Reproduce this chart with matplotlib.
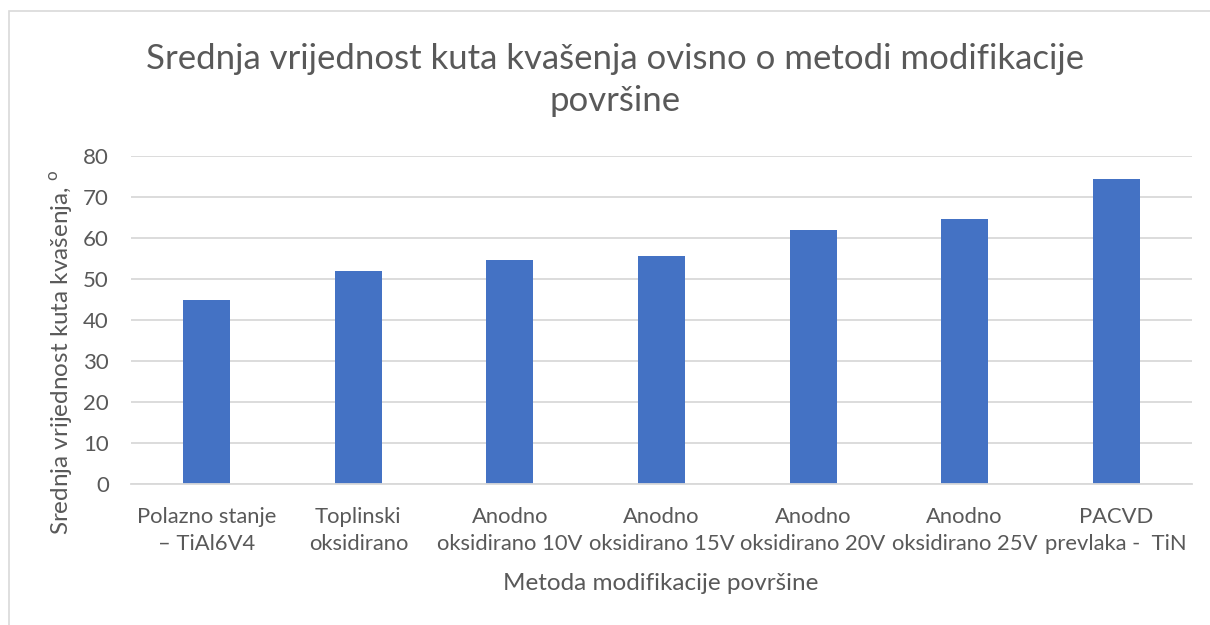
import matplotlib.pyplot as plt
from matplotlib.patches import Rectangle

plt.rcParams["font.family"] = ["Lato", "DejaVu Sans"]
plt.rcParams["mathtext.fontset"] = "custom"
plt.rcParams["mathtext.rm"] = "Lato"

# ---------- data ----------
categories = [
    "Polazno stanje\n– TiAl6V4",
    "Toplinski\noksidirano",
    "Anodno\noksidirano 10V",
    "Anodno\noksidirano 15V",
    "Anodno\noksidirano 20V",
    "Anodno\noksidirano 25V",
    "PACVD\nprevlaka -  TiN",
]
kut = [44.9, 51.8, 54.5, 55.4, 61.9, 64.5, 74.2]
yticks = [0, 10, 20, 30, 40, 50, 60, 70, 80]

title = "Srednja vrijednost kuta kvašenja ovisno o metodi modifikacije\npovršine"
xlabel = "Metoda modifikacije površine"
ylabel = r"Srednja vrijednost kuta kvašenja, $^{\mathrm{o}}$"

BAR = "#4472C4"
TXT = "#595959"
GRID = "#D9D9D9"

W, H = 1210, 625
fig = plt.figure(figsize=(W / 100, H / 100), dpi=100)

# chart frame (runs off the right/bottom edge like in the screenshot)
fig.patches.append(Rectangle((9 / W, -0.05), 1.1, 1 - 11 / H + 0.05,
                             transform=fig.transFigure, fill=False,
                             edgecolor=GRID, linewidth=1.2))

ax = fig.add_axes([131 / W, 1 - 483.5 / H, (1192 - 131) / W, (483.5 - 155.7) / H])

x = range(len(categories))
ax.bar(x, kut, width=0.31, color=BAR, zorder=3)

ax.set_xlim(-0.5, len(categories) - 0.5)
ax.set_ylim(0, 80)
ax.set_yticks(yticks)
ax.set_xticks(list(x))
ax.set_xticklabels(categories, fontsize=15.8, color=TXT, linespacing=1.42)
ax.tick_params(axis="y", length=0, pad=16, labelsize=16, labelcolor=TXT)
ax.tick_params(axis="x", length=0, pad=17)

ax.grid(axis="y", color=GRID, linewidth=1.3, zorder=0)
for s in ["top", "right", "left"]:
    ax.spines[s].set_visible(False)
ax.spines["bottom"].set_color(GRID)
ax.spines["bottom"].set_linewidth(1.3)
ax.spines["bottom"].set_zorder(4)

fig.text(615 / W, 1 - 80 / H, title, ha="center", va="center",
         fontsize=25, color=TXT, linespacing=1.4)
fig.text(661 / W, 1 - 583 / H, xlabel, ha="center", va="center",
         fontsize=17.5, color=TXT)
fig.text(62 / W, 1 - 352 / H, ylabel, ha="center", va="center",
         rotation=90, fontsize=17.5, color=TXT)

fig.savefig("out.png", dpi=100, facecolor="white")
